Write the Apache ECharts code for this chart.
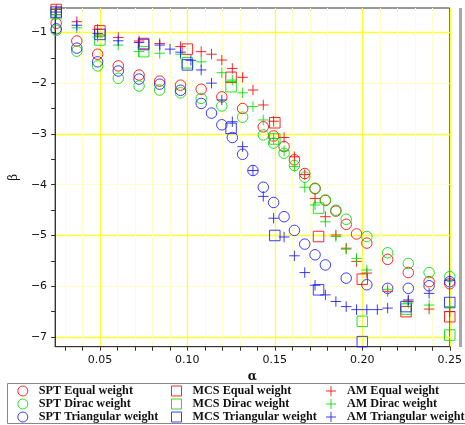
<!DOCTYPE html>
<html><head><meta charset="utf-8">
<script src="https://cdn.jsdelivr.net/npm/echarts@6/dist/echarts.min.js"></script>
<style>html,body{margin:0;padding:0;background:#fff}#c{width:465px;height:425px}</style>
</head><body><div id="c"></div>
<script>
// ---- data ----
const sptEqAlpha = [0.025,0.0368,0.0487,0.0605,0.0724,0.0842,0.0961,0.1079,0.1197,0.1316,0.1434,0.1493,0.1553,0.1612,0.1671,0.1730,0.1789,0.1849,0.1908,0.1967,0.2026,0.2145,0.2263,0.2382,0.25];
const sptEqBeta  = [-0.82,-1.17,-1.43,-1.66,-1.84,-1.96,-2.04,-2.12,-2.27,-2.50,-2.86,-3.04,-3.25,-3.51,-3.78,-4.07,-4.31,-4.52,-4.78,-4.97,-5.15,-5.47,-5.73,-5.91,-5.95];
const sptDiAlpha = [0.025,0.0368,0.0487,0.0605,0.0724,0.0842,0.0961,0.1079,0.1197,0.1316,0.1434,0.1493,0.1553,0.1612,0.1671,0.1730,0.1789,0.1849,0.1908,0.2026,0.2145,0.2263,0.2382,0.25];
const sptDiBeta  = [-0.96,-1.37,-1.66,-1.905,-2.056,-2.135,-2.19,-2.30,-2.45,-2.67,-3.02,-3.18,-3.38,-3.62,-3.85,-4.08,-4.30,-4.50,-4.68,-5.02,-5.34,-5.55,-5.73,-5.81];
const sptTrAlpha = [0.025,0.0368,0.0487,0.0605,0.0724,0.0842,0.0961,0.1079,0.1138,0.1197,0.1257,0.1316,0.1375,0.1434,0.1493,0.1553,0.1612,0.1671,0.1730,0.1789,0.1908,0.2026,0.2145,0.2263,0.2382,0.25];
const sptTrBeta  = [-0.93,-1.31,-1.58,-1.76,-1.92,-2.02,-2.14,-2.40,-2.59,-2.82,-3.07,-3.40,-3.72,-4.05,-4.35,-4.63,-4.90,-5.17,-5.38,-5.58,-5.84,-5.97,-6.04,-6.04,-5.99,-5.91];

const mcsAlpha = [0.025,0.05,0.075,0.1,0.125,0.15,0.175,0.2,0.225,0.25];
const mcsEqBeta = [-0.55,-0.97,-1.22,-1.33,-1.885,-2.78,-5.02,-5.86,-6.50,-6.60];
const mcsDiBeta = [-0.63,-1.15,-1.38,-1.60,-2.07,-3.10,-4.46,-6.69,-6.45,-6.96];
const mcsTrBeta = [-0.60,-1.04,-1.24,-1.64,-2.89,-5.00,-6.07,-7.09,-6.40,-6.32];

const amEqAlpha = [0.025,0.0368,0.0487,0.0605,0.0724,0.0842,0.0961,0.1079,0.1138,0.1197,0.1257,0.1316,0.1375,0.1434,0.1493,0.1553,0.1612,0.1671,0.1730,0.1789,0.1849,0.1908,0.1967,0.2026,0.2145,0.2263,0.2382,0.25];
const amEqBeta  = [-0.55,-0.79,-0.94,-1.10,-1.17,-1.22,-1.28,-1.38,-1.43,-1.545,-1.71,-1.885,-2.135,-2.43,-2.75,-3.07,-3.45,-3.80,-4.27,-4.63,-4.99,-5.25,-5.51,-5.74,-6.10,-6.30,-6.45,-6.50];
const amDiAlpha = [0.025,0.0368,0.0487,0.0605,0.0724,0.0842,0.0961,0.1079,0.1197,0.1257,0.1316,0.1375,0.1434,0.1493,0.1553,0.1612,0.1671,0.1730,0.1789,0.1849,0.1908,0.1967,0.2026,0.2145,0.2263,0.2382,0.25];
const amDiBeta  = [-0.65,-0.91,-1.09,-1.25,-1.38,-1.41,-1.43,-1.58,-1.795,-1.94,-2.19,-2.46,-2.725,-3.09,-3.33,-3.64,-4.05,-4.40,-4.73,-5.02,-5.27,-5.45,-5.68,-6.06,-6.33,-6.37,-6.40];
const amTrAlpha = [0.025,0.0368,0.0487,0.0605,0.0724,0.0842,0.0901,0.0961,0.1020,0.1079,0.1138,0.1197,0.1257,0.1316,0.1375,0.1434,0.1493,0.1553,0.1612,0.1671,0.1730,0.1789,0.1849,0.1908,0.1967,0.2026,0.2086,0.2145,0.2263,0.2382,0.25];
const amTrBeta  = [-0.60,-0.86,-1.02,-1.165,-1.20,-1.25,-1.33,-1.39,-1.55,-1.74,-2.00,-2.33,-2.76,-3.25,-3.72,-4.23,-4.66,-5.03,-5.40,-5.73,-5.98,-6.17,-6.30,-6.40,-6.46,-6.46,-6.46,-6.43,-6.27,-6.14,-5.88];

const xTicks = [0.03,0.04,0.05,0.06,0.07,0.08,0.09,0.10,0.11,0.12,0.13,0.14,0.15,0.16,0.17,0.18,0.19,0.20,0.21,0.22,0.23,0.24,0.25];
const xLabels = [0.05,0.10,0.15,0.20,0.25];
const yTicks = [-7,-6.5,-6,-5.5,-5,-4.5,-4,-3.5,-3,-2.5,-2,-1.5,-1];
const yLabels = [-7,-6,-5,-4,-3,-2,-1];
const yMajorGrid = [-7,-5,-3,-1];

// ---- styling ----
const RED = '#ff0000', GREEN = '#00dd00', BLUE = '#1a1aff';
const PLUS = 'path://M0,5L10,5M5,0L5,10';
const pair = (a, b) => a.map((v, i) => [v, b[i]]);
const mk = (name, a, b, sym, col, size) => ({
  name, type: 'scatter', data: pair(a, b), symbol: sym, symbolSize: size,
  xAxisIndex: 0, yAxisIndex: 0,
  itemStyle: { color: 'rgba(0,0,0,0)', borderColor: col, borderWidth: 1, opacity: 0.85 },
  emphasis: { disabled: true }, clip: false, z: 3
});
const series = [
  mk('SPT Equal weight', sptEqAlpha, sptEqBeta, 'circle', RED, 10.5),
  mk('SPT Dirac weight', sptDiAlpha, sptDiBeta, 'circle', GREEN, 10.5),
  mk('SPT Triangular weight', sptTrAlpha, sptTrBeta, 'circle', BLUE, 10.5),
  mk('MCS Equal weight', mcsAlpha, mcsEqBeta, 'rect', RED, 10.5),
  mk('MCS Dirac weight', mcsAlpha, mcsDiBeta, 'rect', GREEN, 10.5),
  mk('MCS Triangular weight', mcsAlpha, mcsTrBeta, 'rect', BLUE, 10.5),
  mk('AM Equal weight', amEqAlpha, amEqBeta, PLUS, RED, 10.5),
  mk('AM Dirac weight', amDiAlpha, amDiBeta, PLUS, GREEN, 10.5),
  mk('AM Triangular weight', amTrAlpha, amTrBeta, PLUS, BLUE, 10.5)
];
const BRIGHT = '#ffff30', FAINT = '#ffffc8';
const legendBase = (left, names) => ({
  orient: 'vertical', left, top: 384.5, padding: 0, itemGap: 0,
  itemWidth: 10, itemHeight: 10, itemStyle: { borderWidth: 1 },
  textStyle: { fontFamily: 'Liberation Serif', fontWeight: 'bold', fontSize: 12.2, color: '#111', lineHeight: 13, padding: [0, 0, 0, 6] },
  data: names, selectedMode: false
});
const X_MIN = 0.0244, X_MAX = 0.25, Y_MIN = -7.19, Y_MAX = -0.52;
const chart = echarts.init(document.getElementById('c'), null, { renderer: 'canvas' });
chart.setOption({
  animation: false,
  backgroundColor: '#fff',
  grid: { left: 46.7, right: 6.6, top: 8, bottom: 78.3, show: true, borderColor: '#333', borderWidth: 1, backgroundColor: 'rgba(0,0,0,0)' },
  xAxis: [{
    type: 'value', min: X_MIN, max: X_MAX,
    name: 'α', nameLocation: 'middle', nameGap: 24,
    nameTextStyle: { fontFamily: 'DejaVu Serif', fontWeight: 'bold', fontSize: 12, color: '#111' },
    axisLine: { show: true, lineStyle: { color: '#333', width: 1 } },
    axisTick: { show: true, length: 4, customValues: xTicks, lineStyle: { color: '#333' } },
    axisLabel: { customValues: xLabels, formatter: v => v.toFixed(2), margin: 8, fontFamily: 'DejaVu Sans', fontSize: 11, color: '#111' },
    splitLine: { show: true, lineStyle: { color: FAINT, width: 1 } }
  }, {
    type: 'value', min: X_MIN, max: X_MAX, position: 'bottom',
    axisLine: { show: false }, axisLabel: { show: false },
    axisTick: { show: false, customValues: xLabels },
    splitLine: { show: true, lineStyle: { color: BRIGHT, width: 1.3 } }
  }],
  yAxis: [{
    type: 'value', min: Y_MIN, max: Y_MAX,
    name: 'β', nameLocation: 'middle', nameGap: 30,
    nameTextStyle: { fontFamily: 'DejaVu Serif', fontSize: 12, color: '#111' },
    axisLine: { show: true, lineStyle: { color: '#333', width: 1 } },
    axisTick: { show: true, length: 4, customValues: yTicks, lineStyle: { color: '#333' } },
    axisLabel: { customValues: yLabels, formatter: v => (v < 0 ? '\u2212' + Math.abs(v) : String(v)), margin: 8, fontFamily: 'DejaVu Sans', fontSize: 11, color: '#111' },
    splitLine: { show: false }
  }, {
    type: 'value', min: Y_MIN, max: Y_MAX, position: 'left',
    axisLine: { show: false }, axisLabel: { show: false },
    axisTick: { show: false, customValues: yLabels },
    splitLine: { show: true, lineStyle: { color: FAINT, width: 1 } }
  }, {
    type: 'value', min: Y_MIN, max: Y_MAX, position: 'left',
    axisLine: { show: false }, axisLabel: { show: false },
    axisTick: { show: false, customValues: yMajorGrid },
    splitLine: { show: true, lineStyle: { color: BRIGHT, width: 1.3 } }
  }],
  legend: [
    legendBase(17.3, ['SPT Equal weight', 'SPT Dirac weight', 'SPT Triangular weight']),
    legendBase(171, ['MCS Equal weight', 'MCS Dirac weight', 'MCS Triangular weight']),
    legendBase(325.5, ['AM Equal weight', 'AM Dirac weight', 'AM Triangular weight'])
  ],
  graphic: [
    { type: 'rect', shape: { x: 7.5, y: 383.5, width: 460, height: 40 }, style: { fill: 'none', stroke: '#888', lineWidth: 1 }, z: 1 },
    { type: 'rect', shape: { x: 459, y: 8, width: 3, height: 339 }, style: { fill: '#a8a8a8' }, z: 1 }
  ],
  series
});
</script></body></html>
